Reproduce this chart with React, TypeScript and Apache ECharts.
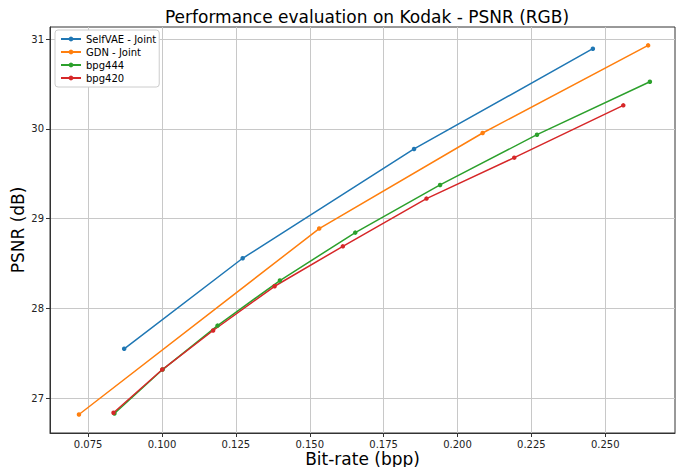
import React, { useEffect, useRef } from "react";
import * as echarts from "echarts";

const seriesNames = ["SelfVAE - Joint", "GDN - Joint", "bpg444", "bpg420"];
const colors = ["#1f77b4", "#ff7f0e", "#2ca02c", "#d62728"];

const selfVaeBpp = [0.0872, 0.1273, 0.1853, 0.2458];
const selfVaePsnr = [27.548, 28.557, 29.775, 30.892];

const gdnBpp = [0.0719, 0.1532, 0.2085, 0.2645];
const gdnPsnr = [26.816, 28.888, 29.953, 30.929];

const bpg444Bpp = [0.0839, 0.1002, 0.1188, 0.1399, 0.1654, 0.1941, 0.2269, 0.2651];
const bpg444Psnr = [26.827, 27.317, 27.807, 28.309, 28.843, 29.374, 29.934, 30.524];

const bpg420Bpp = [0.0836, 0.1001, 0.1173, 0.1381, 0.1612, 0.1895, 0.2192, 0.2561];
const bpg420Psnr = [26.835, 27.317, 27.752, 28.245, 28.69, 29.222, 29.678, 30.261];

const xTicks = [0.075, 0.1, 0.125, 0.15, 0.175, 0.2, 0.225, 0.25];
const yTicks = [27, 28, 29, 30, 31];

const zip = (xs: number[], ys: number[]) => xs.map((x, i) => [x, ys[i]]);

export default function App() {
  const ref = useRef<HTMLDivElement>(null);
  useEffect(() => {
    document.body.style.margin = "0";
    if (!ref.current) return;
    const chart = echarts.init(ref.current, null, { renderer: "svg" });
    const font = "DejaVu Sans";
    const datasets = [
      zip(selfVaeBpp, selfVaePsnr),
      zip(gdnBpp, gdnPsnr),
      zip(bpg444Bpp, bpg444Psnr),
      zip(bpg420Bpp, bpg420Psnr),
    ];
    chart.setOption({
      animation: false,
      backgroundColor: "#ffffff",
      title: {
        text: "Performance evaluation on Kodak - PSNR (RGB)",
        left: 362,
        textAlign: "center",
        top: 3,
        textStyle: { fontFamily: font, fontSize: 17, fontWeight: "normal", color: "#000" },
      },
      legend: {
        orient: "vertical",
        left: 55,
        top: 30,
        padding: [4, 3, 4, 5],
        itemWidth: 20,
        itemHeight: 6,
        itemGap: 3,
        backgroundColor: "#ffffff",
        borderColor: "#cccccc",
        borderWidth: 1,
        borderRadius: 3,
        textStyle: { fontFamily: font, fontSize: 10, color: "#000" },
        data: seriesNames,
      },
      grid: {
        left: 50,
        right: 1,
        top: 27,
        bottom: 34,
        outerBoundsMode: "none",
        containLabel: false,
        show: true,
        borderColor: "#333",
        borderWidth: 1,
        backgroundColor: "transparent",
      },
      xAxis: {
        type: "value",
        min: 0.0621,
        max: 0.2736,
        name: "Bit-rate (bpp)",
        nameLocation: "middle",
        nameGap: 17,
        nameMoveOverlap: false,
        nameTextStyle: { fontFamily: font, fontSize: 17, color: "#000", verticalAlign: "top", lineHeight: 17 },
        axisLine: { show: true, lineStyle: { color: "#333" } },
        axisTick: { show: true, length: 4, lineStyle: { color: "#333" }, customValues: xTicks },
        axisLabel: {
          fontFamily: font,
          fontSize: 10,
          color: "#222",
          margin: 6,
          customValues: xTicks,
          formatter: (v: number) => v.toFixed(3),
        },
        splitLine: { show: true, lineStyle: { color: "#c8c8c8", width: 1 } },
      },
      yAxis: {
        type: "value",
        min: 26.61,
        max: 31.134,
        name: "PSNR (dB)",
        nameLocation: "middle",
        nameGap: 24,
        nameMoveOverlap: false,
        nameTextStyle: { fontFamily: font, fontSize: 17, color: "#000" },
        axisLine: { show: true, lineStyle: { color: "#333" } },
        axisTick: { show: true, length: 4, lineStyle: { color: "#333" }, customValues: yTicks },
        axisLabel: {
          fontFamily: font,
          fontSize: 10,
          color: "#222",
          margin: 6,
          customValues: yTicks,
          formatter: (v: number) => String(Math.round(v)),
        },
        splitLine: { show: true, lineStyle: { color: "#c8c8c8", width: 1 } },
      },
      series: datasets.map((d, i) => ({
        name: seriesNames[i],
        type: "line",
        data: d,
        color: colors[i],
        symbol: "circle",
        symbolSize: 4.5,
        showSymbol: true,
        lineStyle: { width: 1.5, color: colors[i] },
        itemStyle: { color: colors[i] },
      })),
    });
    return () => chart.dispose();
  }, []);
  return <div ref={ref} style={{ width: 676, height: 467 }} />;
}
